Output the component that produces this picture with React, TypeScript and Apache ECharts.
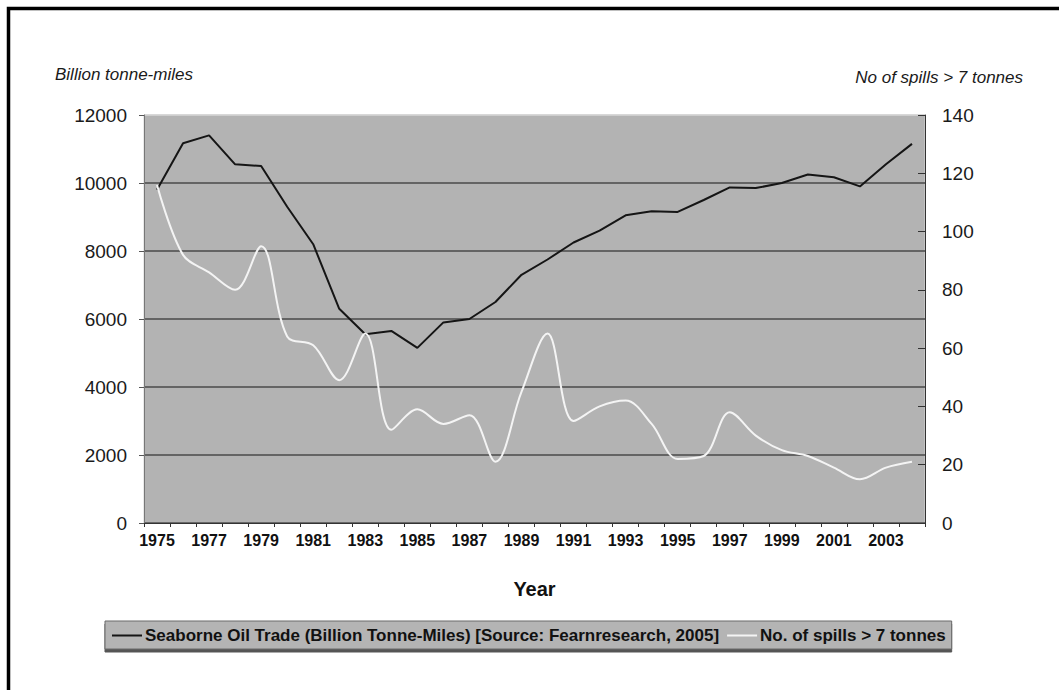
import React, { useEffect, useRef } from "react";
import * as echarts from "echarts";

const years = [
  "1975", "1976", "1977", "1978", "1979", "1980", "1981", "1982", "1983", "1984",
  "1985", "1986", "1987", "1988", "1989", "1990", "1991", "1992", "1993", "1994",
  "1995", "1996", "1997", "1998", "1999", "2000", "2001", "2002", "2003", "2004",
];

const oilTrade = [
  9800, 11170, 11400, 10550, 10500, 9300, 8200, 6300, 5550, 5650,
  5150, 5900, 6000, 6500, 7300, 7750, 8250, 8600, 9050, 9170,
  9150, 9500, 9870, 9850, 10000, 10250, 10170, 9900, 10550, 11150,
];

const spills = [
  116, 92, 86, 80, 95, 64, 61, 49, 65, 32,
  39, 34, 37, 21, 45, 65, 35, 40, 42, 34,
  22, 23, 38, 30, 25, 23, 19, 15, 19, 21,
];

const oilName = "Seaborne Oil Trade (Billion Tonne-Miles) [Source: Fearnresearch, 2005]";
const spillName = "No. of spills > 7 tonnes";
const leftAxisTitle = "Billion tonne-miles";
const rightAxisTitle = "No of spills > 7 tonnes";
const xAxisTitle = "Year";

const FONT = "'Liberation Sans', Arial, sans-serif";

export default function App() {
  const ref = useRef<HTMLDivElement>(null);

  useEffect(() => {
    if (!ref.current) return;
    const chart = echarts.init(ref.current, null, { renderer: "svg" });
    chart.setOption({
      animation: false,
      backgroundColor: "#ffffff",
      textStyle: { fontFamily: FONT },
      grid: {
        left: 144,
        right: 134,
        top: 115,
        bottom: 167,
        show: true,
        backgroundColor: "#b3b3b3",
        borderColor: "#d2d2d2",
        borderWidth: 1,
      },
      graphic: [
        {
          type: "rect",
          shape: { x: 8.5, y: 8.5, width: 1200, height: 800 },
          style: { fill: "none", stroke: "#000", lineWidth: 3.5 },
          silent: true,
        },
        {
          type: "text",
          x: 55,
          y: 66,
          style: {
            text: leftAxisTitle,
            font: `italic 17px ${FONT}`,
            fill: "#1a1a1a",
          },
        },
        {
          type: "text",
          x: 1023,
          y: 69,
          style: {
            text: rightAxisTitle,
            font: `italic 17px ${FONT}`,
            fill: "#1a1a1a",
            align: "right",
          },
        },
      ],
      legend: {
        left: 105,
        top: 621,
        padding: [6, 6, 5, 7],
        backgroundColor: "#b4b4b4",
        borderColor: "#6a6a6a",
        borderWidth: 1,
        shadowColor: "#555",
        shadowOffsetY: 3,
        shadowOffsetX: 0,
        shadowBlur: 0,
        icon: "rect",
        itemWidth: 30,
        itemHeight: 2,
        itemGap: 8,
        textStyle: {
          fontFamily: FONT,
          fontWeight: "bold",
          fontSize: 17,
          color: "#111",
          padding: [0, 0, 0, -2],
        },
        data: [oilName, spillName],
      },
      xAxis: {
        type: "category",
        data: years,
        boundaryGap: true,
        name: xAxisTitle,
        nameLocation: "middle",
        nameGap: 56,
        nameTextStyle: { fontFamily: FONT, fontWeight: "bold", fontSize: 20, color: "#111" },
        axisLine: { lineStyle: { color: "#333", width: 1 } },
        axisTick: { show: true, interval: 0, length: 4, lineStyle: { color: "#333" } },
        axisLabel: {
          interval: 1,
          fontFamily: FONT,
          fontWeight: "bold",
          fontSize: 16,
          color: "#111",
          margin: 9,
        },
        splitLine: { show: false },
      },
      yAxis: [
        {
          type: "value",
          min: 0,
          max: 12000,
          interval: 2000,
          position: "left",
          axisLine: { show: true, lineStyle: { color: "#777", width: 1 } },
          axisTick: { show: true, length: 5, lineStyle: { color: "#555" } },
          axisLabel: {
            fontFamily: FONT,
            fontSize: 19,
            color: "#1a1a1a",
            margin: 17,
            formatter: (v: number) => String(v),
          },
          splitLine: {
            show: true,
            lineStyle: {
              color: ["#4a4a4a", "#4a4a4a", "#4a4a4a", "#4a4a4a", "#4a4a4a", "#4a4a4a", "#d2d2d2"],
              width: 1.5,
            },
          },
        },
        {
          type: "value",
          min: 0,
          max: 140,
          interval: 20,
          position: "right",
          axisLine: { show: true, lineStyle: { color: "#333", width: 1 } },
          axisTick: { show: true, inside: true, length: 7, lineStyle: { color: "#333" } },
          axisLabel: {
            fontFamily: FONT,
            fontSize: 19,
            color: "#1a1a1a",
            margin: 17,
            formatter: (v: number) => String(v),
          },
          splitLine: { show: false },
        },
      ],
      series: [
        {
          name: oilName,
          type: "line",
          yAxisIndex: 0,
          data: oilTrade,
          symbol: "none",
          smooth: false,
          lineStyle: { color: "#151515", width: 2 },
          itemStyle: { color: "#151515" },
          z: 3,
        },
        {
          name: spillName,
          type: "line",
          yAxisIndex: 1,
          data: spills,
          symbol: "none",
          smooth: 0.35,
          lineStyle: { color: "#f4f4f4", width: 2 },
          itemStyle: { color: "#f4f4f4" },
          z: 4,
        },
      ],
    });
    return () => chart.dispose();
  }, []);

  return (
    <div
      ref={ref}
      style={{ position: "fixed", left: 0, top: 0, width: 1059, height: 690 }}
    />
  );
}
